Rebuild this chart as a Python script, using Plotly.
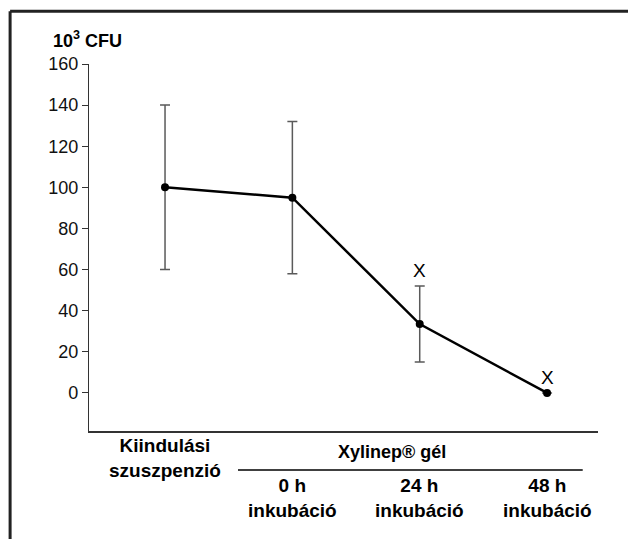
import plotly.graph_objects as go

# ---- data ----
categories = [0, 1, 2, 3]
values = [100, 95, 33.5, 0]
errors = [40, 37, 18.5, 0]
sig_marks = ["", "", "X", "X"]
y_ticks = [0, 20, 40, 60, 80, 100, 120, 140, 160]
group_first_label = "Kiindulási<br>szuszpenzió"
group_label = "Xylinep® gél"
time_labels = ["0 h<br>inkubáció", "24 h<br>inkubáció", "48 h<br>inkubáció"]
y_title = "10<sup>3</sup> CFU"

FONT = "Liberation Sans, Arial, sans-serif"

fig = go.Figure()
fig.add_trace(go.Scatter(
    x=categories, y=values,
    mode="lines+markers",
    line=dict(color="black", width=2.5),
    marker=dict(color="black", size=8),
    error_y=dict(type="data", array=errors, visible=True,
                 color="#5a5a5a", thickness=1.5, width=5),
    showlegend=False,
))

annotations = []
# significance marks
for x, v, e, s in zip(categories, values, errors, sig_marks):
    if s:
        annotations.append(dict(x=x, y=v + e, xref="x", yref="y", text=s,
                                showarrow=False, yanchor="bottom", yshift=3,
                                font=dict(family=FONT, size=19, color="black")))
# category labels
annotations.append(dict(x=categories[0], y=-0.074, xref="x", yref="paper",
                        text=f"<b>{group_first_label}</b>", showarrow=False,
                        yanchor="middle",
                        font=dict(family=FONT, size=19, color="black")))
annotations.append(dict(x=1.78, y=-0.057,
                        xref="x", yref="paper",
                        text=f"<b>{group_label}</b>", showarrow=False,
                        yanchor="middle",
                        font=dict(family=FONT, size=18, color="black")))
for x, t in zip(categories[1:], time_labels):
    annotations.append(dict(x=x, y=-0.183, xref="x", yref="paper",
                            text=f"<b>{t}</b>", showarrow=False,
                            yanchor="middle",
                            font=dict(family=FONT, size=19, color="black")))
# y title
annotations.append(dict(x=-0.003, y=1.068, xref="paper", yref="paper",
                        text=f"<b>{y_title}</b>", showarrow=False,
                        xanchor="center", yanchor="middle",
                        font=dict(family=FONT, size=18, color="black")))

shapes = [
    # group separator line
    dict(type="line", xref="x", yref="paper", x0=0.573, x1=3.28,
         y0=-0.106, y1=-0.106, line=dict(color="black", width=1.5)),
    # outer frame
    dict(type="line", xref="paper", yref="paper", x0=-0.155, x1=-0.155,
         y0=-0.32, y1=1.144, line=dict(color="#222", width=3)),
    dict(type="line", xref="paper", yref="paper", x0=-0.155, x1=1.2,
         y0=1.144, y1=1.144, line=dict(color="#222", width=3)),
]

fig.update_layout(
    width=628, height=539,
    margin=dict(l=89, r=30, t=64, b=108),
    paper_bgcolor="white", plot_bgcolor="white",
    font=dict(family=FONT, size=18, color="black"),
    annotations=annotations, shapes=shapes,
    xaxis=dict(range=[-0.597, 3.40], showticklabels=False, ticks="",
               showgrid=False, zeroline=False, showline=True,
               linecolor="#333", linewidth=1.5, fixedrange=True),
    yaxis=dict(range=[-18.5, 160], tickvals=y_ticks, ticks="outside",
               ticklen=6, tickcolor="#333", showgrid=False, zeroline=False,
               showline=True, linecolor="#333", linewidth=1.2,
               tickfont=dict(family=FONT, size=18, color="#111"),
               fixedrange=True),
)

fig.write_html("out.html", config={"displayModeBar": False},
               post_script="document.body.style.margin='0';document.body.style.overflow='hidden';")
